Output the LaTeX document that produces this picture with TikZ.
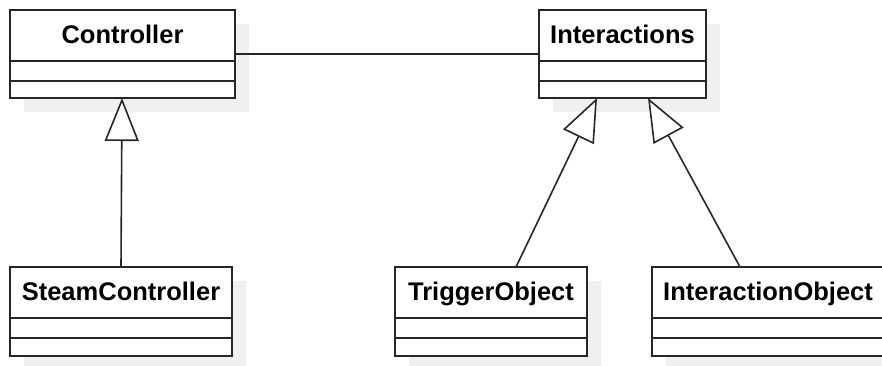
\documentclass[tikz,border=0pt]{standalone}
\usepackage{fontspec}
\setmainfont{Liberation Sans}
\usetikzlibrary{arrows.meta,calc}
\begin{document}
\begin{tikzpicture}[x=1pt,y=-1pt,
  classbox/.style={draw=black!85, line width=2pt, fill=white, anchor=north west, inner sep=0pt, outer sep=0pt},
  shadowbox/.style={fill=black!6},
  title/.style={font=\fontsize{25.5}{30}\selectfont\bfseries, anchor=base, inner sep=0pt},
  divider/.style={draw=black!85, line width=2pt},
  assoc/.style={draw=black!85, line width=1.6pt},
  inherit/.style={draw=black!85, line width=1.6pt, -{Triangle[open, length=43pt, width=34pt, fill=white]}},
]
\useasboundingbox (0,0) rectangle (882,365);
\clip (0,0) rectangle (882,365);

% shadows
\fill[shadowbox] (24,24) rectangle (249,112);
\fill[shadowbox] (553,24) rectangle (720,112);
\fill[shadowbox] (24,281) rectangle (246,370);
\fill[shadowbox] (409,281) rectangle (601,370);
\fill[shadowbox] (666,281) rectangle (898,370);

% class boxes
\node[classbox, minimum width=225pt, minimum height=88pt] (ctrl) at (10,10) {};
\node[classbox, minimum width=167pt, minimum height=88pt] (inter) at (539,10) {};
\node[classbox, minimum width=222pt, minimum height=89pt] (steam) at (10,267) {};
\node[classbox, minimum width=192pt, minimum height=89pt] (trig) at (395,267) {};
\node[classbox, minimum width=232pt, minimum height=89pt] (iobj) at (652,267) {};

% titles
\node[title] (ctrlT) at ($(ctrl.north)+(0,33.5)$) {Controller};
\node[title] (interT) at ($(inter.north)+(0,33.5)$) {Interactions};
\node[title] (steamT) at ($(steam.north)+(0,33.5)$) {SteamController};
\node[title] (trigT) at ($(trig.north)+(0,33.5)$) {TriggerObject};
\node[title] (iobjT) at ($(iobj.north)+(0,33.5)$) {InteractionObject};

% dividers
\foreach \n in {ctrl,inter,steam,trig,iobj}{
  \draw[divider] ($(\n.north west)+(0,51)$) -- ($(\n.north east)+(0,51)$);
  \draw[divider] ($(\n.north west)+(0,70.5)$) -- ($(\n.north east)+(0,70.5)$);
}

% connectors
\draw[assoc] (ctrl.east) -- (inter.west);
\draw[inherit] (steam.north) -- ($(ctrl.south)+(-0.5,0)$);
\draw[inherit] ($(trig.north)+(25,0)$) -- ($(inter.south)+(-25.5,0)$);
\draw[inherit] ($(iobj.north)+(-28,0)$) -- ($(inter.south)+(25.5,0)$);
\end{tikzpicture}
\end{document}
